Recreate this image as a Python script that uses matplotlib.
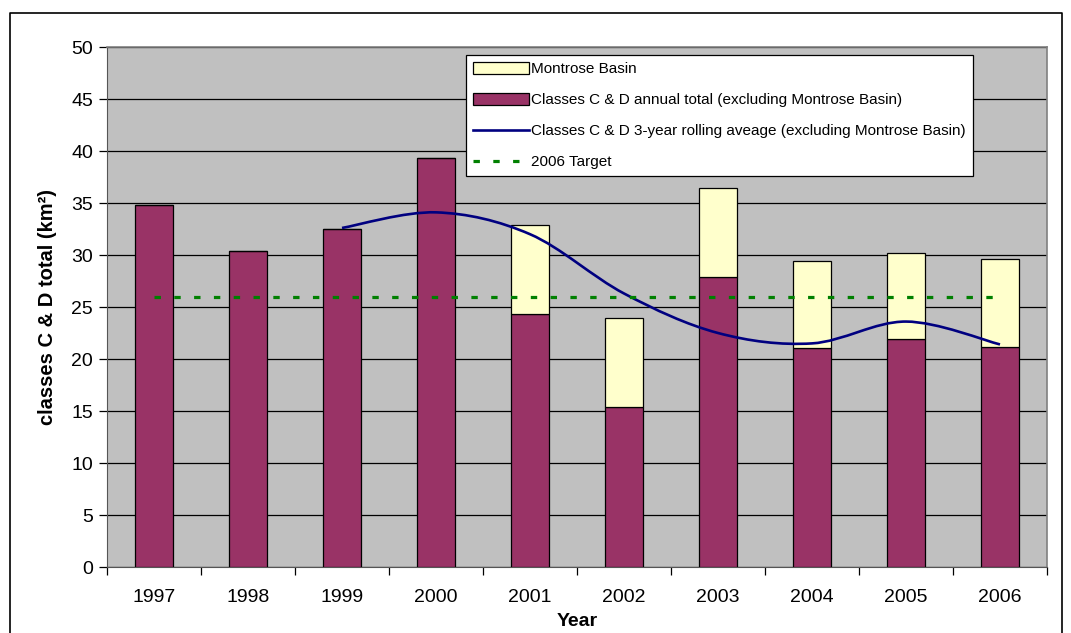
import matplotlib.pyplot as plt
import numpy as np
from matplotlib.path import Path
from matplotlib.patches import PathPatch, Patch
from matplotlib.lines import Line2D

plt.rcParams['font.family'] = ['Liberation Sans', 'DejaVu Sans']

years = ["1997", "1998", "1999", "2000", "2001", "2002", "2003", "2004", "2005", "2006"]
# classes C & D excluding Montrose Basin
classesCD = [34.8, 30.4, 32.5, 39.3, 24.3, 15.4, 27.9, 21.1, 21.9, 21.2]
# Montrose Basin part (stacked on top)
montrose = [0, 0, 0, 0, 8.6, 8.5, 8.5, 8.3, 8.3, 8.4]
# 3-year rolling average, from 1999 on
rollingYears = ["1999", "2000", "2001", "2002", "2003", "2004", "2005", "2006"]
rollingAvg = [32.6, 34.1, 32.0, 26.3, 22.5, 21.5, 23.6, 21.4]
target = 26

maroon = "#993366"
paleYellow = "#FFFFCC"
navy = "#000080"
green = "#008000"

fig = plt.figure(figsize=(10.71, 6.33), dpi=100)
ax = fig.add_axes([107 / 1071, 66 / 633, 940 / 1071, 520 / 633])
ax.set_facecolor("#C0C0C0")

x = np.arange(len(years))
ax.bar(x, classesCD, width=0.4, color=maroon, edgecolor="black", linewidth=0.9, zorder=3)
ax.bar(x, montrose, width=0.4, bottom=classesCD, color=paleYellow, edgecolor="black",
       linewidth=0.9, zorder=3)

# smoothed rolling average line (Excel-style bezier smoothing)
rx = np.array([years.index(y) for y in rollingYears], dtype=float)
ry = np.array(rollingAvg)
pts = np.column_stack([rx, ry])
verts = [pts[0]]
codes = [Path.MOVETO]
for i in range(len(pts) - 1):
    p0 = pts[i - 1] if i > 0 else pts[i]
    p1 = pts[i]
    p2 = pts[i + 1]
    p3 = pts[i + 2] if i + 2 < len(pts) else pts[i + 1]
    c1 = p1 + (p2 - p0) / 6
    c2 = p2 - (p3 - p1) / 6
    verts += [c1, c2, p2]
    codes += [Path.CURVE4] * 3
ax.add_patch(PathPatch(Path(verts, codes), facecolor="none", edgecolor=navy,
                       linewidth=1.9, zorder=4))

ax.plot([x[0], x[-1]], [target, target], color=green, linewidth=2.3,
        linestyle=(0, (2, 4.2)), dash_capstyle="butt", zorder=5)

ax.set_xlim(-0.5, len(years) - 0.5)
ax.set_ylim(0, 50)
ax.set_yticks(np.arange(0, 51, 5))
ax.yaxis.grid(True, color="black", linewidth=0.9)
ax.set_axisbelow(True)
ax.tick_params(axis="y", direction="out", length=6, width=0.9, labelsize=14, pad=4)
ax.set_xticks(x)
ax.set_xticklabels(years)
ax.set_xticks(np.arange(-0.5, len(years)), minor=True)
ax.tick_params(axis="x", which="major", length=0, labelsize=14, pad=16)
ax.tick_params(axis="x", which="minor", direction="out", length=6, width=0.9)

for side in ["top", "right"]:
    ax.spines[side].set_color("#808080")
    ax.spines[side].set_linewidth(1.2)
ax.spines["left"].set_color("#555555")
ax.spines["bottom"].set_color("#555555")

ax.set_ylabel("classes C & D total (km²)", fontsize=14.5, fontweight="bold", labelpad=10)
ax.set_xlabel("Year", fontsize=14, fontweight="bold", labelpad=5)

handles = [
    Patch(facecolor=paleYellow, edgecolor="black", linewidth=0.9),
    Patch(facecolor=maroon, edgecolor="black", linewidth=0.9),
    Line2D([0], [0], color=navy, linewidth=1.9),
    Line2D([0], [0], color=green, linewidth=2.3, linestyle=(0, (2, 4.2)), dash_capstyle="butt"),
]
labels = [
    "Montrose Basin",
    "Classes C & D annual total (excluding Montrose Basin)",
    "Classes C & D 3-year rolling aveage (excluding Montrose Basin)",
    "2006 Target",
]
leg = ax.legend(handles, labels, loc="upper left", bbox_to_anchor=(0.382, 0.984),
                fontsize=11, frameon=True, fancybox=False, framealpha=1,
                edgecolor="black", handlelength=3.7, handleheight=0.8,
                labelspacing=1.1, handletextpad=0.1, borderpad=0.45, borderaxespad=0)
leg.get_frame().set_linewidth(0.9)
leg.set_zorder(10)

# outer chart border
fig.add_artist(Line2D([10 / 1071, 10 / 1071, 1062 / 1071, 1062 / 1071],
                      [-0.1, 1 - 13 / 633, 1 - 13 / 633, -0.1],
                      color="black", linewidth=1.2, transform=fig.transFigure))

fig.savefig("out.png", dpi=100)
